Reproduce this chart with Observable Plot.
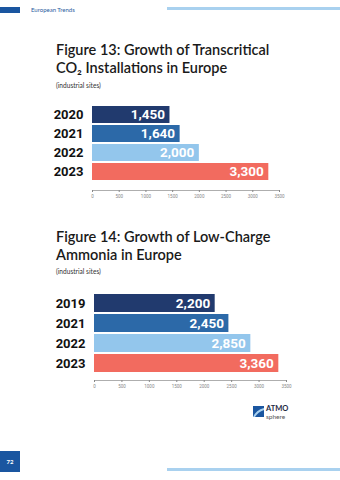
<!DOCTYPE html>
<html><head><meta charset="utf-8">
<script src="https://cdn.jsdelivr.net/npm/d3@7"></script>
<script src="https://cdn.jsdelivr.net/npm/@observablehq/plot@0.6"></script>
<style>
html,body{margin:0;padding:0;background:#fff;}
#page{position:relative;width:340px;height:480px;overflow:hidden;font-family:Lato,"Open Sans",sans-serif;}
.abs{position:absolute;}
.title{left:56px;font-size:14.5px;font-weight:600;color:#1a1a1a;line-height:18px;white-space:nowrap;}
.sub{left:56px;font-size:6.6px;color:#333;}
.chart{position:absolute;left:0;}
</style></head>
<body>
<div id="page">
  <div class="abs" style="left:0;top:7px;width:20px;height:6px;background:#1a56a0"></div>
  <div class="abs" style="left:31px;top:6px;font-size:6px;color:#2a5aa0;">European Trends</div>
  <div class="abs" style="left:167px;top:7px;width:173px;height:2.5px;background:#a9d1ef"></div>

  <div class="abs title" style="top:41px">Figure 13: Growth of Transcritical<br>CO₂ Installations in Europe</div>
  <div class="abs sub" style="top:81px">(industrial sites)</div>
  <div id="c1" class="chart" style="top:100px"></div>

  <div class="abs title" style="top:228px">Figure 14: Growth of Low-Charge<br>Ammonia in Europe</div>
  <div class="abs sub" style="top:267px">(industrial sites)</div>
  <div id="c2" class="chart" style="top:285px"></div>

  <div class="abs" style="left:253px;top:403px;width:42px;height:18px;">
    <svg width="42" height="18" viewBox="0 0 42 18">
      <rect x="0" y="3" width="11" height="11" fill="#1a56a0"/>
      <path d="M0 14 Q3 7 11 5 L11 7 Q5 9 2 14 Z" fill="#a9d1ef"/>
      <text x="13" y="8" font-family="Lato" font-weight="700" font-size="7.5" fill="#1f2a44">ATMO</text>
      <text x="13" y="16" font-family="Lato" font-size="6.5" fill="#555">sphere</text>
    </svg>
  </div>

  <div class="abs" style="left:0;top:451px;width:20px;height:21px;background:#1a56a0;color:#fff;font-size:6px;font-weight:700;text-align:center;line-height:21px;">72</div>
  <div class="abs" style="left:167px;top:468px;width:173px;height:3px;background:#a9d1ef"></div>
</div>
<script>
const years13 = ["2020", "2021", "2022", "2023"];
const values13 = [1450, 1640, 2000, 3300];
const years14 = ["2019", "2021", "2022", "2023"];
const values14 = [2200, 2450, 2850, 3360];
const barColors = ["#213a6e", "#2c69a8", "#93c6ec", "#f26b5f"];
const xTicks = [0, 500, 1000, 1500, 2000, 2500, 3000, 3500];

function chart(years, values, opts) {
  const data = years.map((y, i) => ({year: y, value: values[i]}));
  return Plot.plot({
    width: 340,
    height: opts.height,
    marginLeft: opts.left,
    marginRight: 340 - opts.right,
    marginTop: opts.top,
    marginBottom: 12,
    insetBottom: 8,
    style: {fontFamily: "Roboto, sans-serif", background: "transparent", overflow: "visible"},
    x: {domain: [0, 3500]},
    y: {domain: years, paddingInner: 0.1, paddingOuter: 0},
    color: {domain: years, range: barColors},
    marks: [
      Plot.barX(data, {x: "value", y: "year", fill: "year"}),
      Plot.text(data, {x: "value", y: "year", text: d => d3.format(",")(d.value), textAnchor: "end", dx: -5, fill: "white", fontWeight: "bold", fontSize: 13.5}),
      Plot.axisY({tickSize: 0, tickPadding: 9, fontSize: 13, fontWeight: "bold", color: "#111", label: null}),
      Plot.frame({anchor: "bottom", stroke: "#999", strokeWidth: 0.8}),
      Plot.axisX({ticks: xTicks, tickFormat: d => String(d), tickSize: 2, tickPadding: 2, fontSize: 4.5, color: "#888", label: null})
    ]
  });
}

document.getElementById("c1").append(chart(years13, values13, {height: 102, top: 5, left: 92, right: 279}));
document.getElementById("c2").append(chart(years14, values14, {height: 107, top: 9, left: 94, right: 286}));
</script>
</body></html>
